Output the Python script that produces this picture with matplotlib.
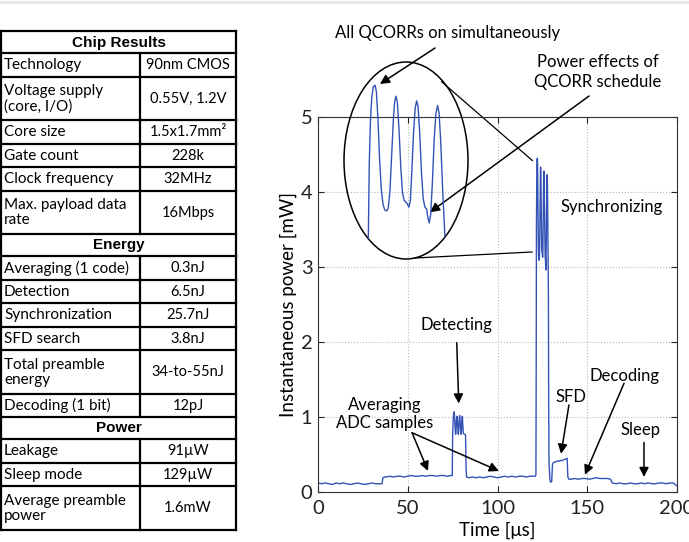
import matplotlib.pyplot as plt
from matplotlib.patches import Ellipse

# table contents
chip_rows = ['Technology', 'Voltage supply\n(core, I/O)', 'Core size', 'Gate count',
             'Clock frequency', 'Max. payload data\nrate']
chip_vals = ['90nm CMOS', '0.55V, 1.2V', '1.5x1.7mm²', '228k', '32MHz', '16Mbps']
energy_rows = ['Averaging (1 code)', 'Detection', 'Synchronization', 'SFD search',
               'Total preamble\nenergy', 'Decoding (1 bit)']
energy_vals = ['0.3nJ', '6.5nJ', '25.7nJ', '3.8nJ', '34-to-55nJ', '12pJ']
power_rows = ['Leakage', 'Sleep mode', 'Average preamble\npower']
power_vals = ['91µW', '129µW', '1.6mW']
sections = [('Chip Results', chip_rows, chip_vals),
            ('Energy', energy_rows, energy_vals),
            ('Power', power_rows, power_vals)]

# measured power trace (time in us, power in mW)
time_us = [0, 2, 4, 6, 8, 10, 12, 14, 16, 18, 20, 22, 24, 26, 28, 30, 32, 34, 35.6,
           36.2, 37, 38, 40, 42, 44, 46, 48, 50, 52, 54, 56, 58, 60, 62, 64, 66, 68, 70, 72, 74,
           74.8, 75.0, 75.3, 75.6, 75.9, 76.2, 76.5, 76.7, 76.9, 77.1, 77.4, 77.7, 78.0, 78.2,
           78.4, 78.6, 78.9, 79.2, 79.5, 79.7, 79.9, 80.1, 80.4, 80.7, 81.0, 81.6, 82.2, 82.5, 82.8,
           84, 86, 88, 90, 92, 94, 96, 98, 100, 102, 104, 106, 108, 110, 112, 114, 116, 118, 120,
           121.0, 121.4, 121.55, 121.62, 121.7, 121.8, 121.92, 122.05, 122.2, 122.32, 122.45,
           122.6, 122.75, 122.9, 123.05, 123.22, 123.35, 123.5, 123.65, 123.8, 123.92, 124.03,
           124.15, 124.3, 124.45, 124.6, 124.75, 124.85, 125.0, 125.15, 125.28, 125.4, 125.55,
           125.7, 125.83, 125.95, 126.1, 126.25, 126.4, 126.55, 126.7, 126.8, 126.92, 127.05,
           127.2, 127.35, 127.5, 127.65, 127.78, 127.92, 128.1, 128.25, 128.37, 128.5, 128.7,
           129.2, 129.6, 130.2, 130.6, 131, 132, 133, 134, 135, 136, 137, 138, 138.8, 139.2, 139.8,
           141, 143, 145, 147, 149, 151, 153, 155, 157, 159, 161, 163, 164,
           166, 168, 170, 172, 174, 176, 178, 180, 182, 184, 186, 188, 190, 192, 194, 196, 198, 200]
power_mw = [0.12, 0.11, 0.12, 0.11, 0.10, 0.12, 0.11, 0.12, 0.11, 0.10, 0.11, 0.12, 0.11, 0.10,
            0.11, 0.12, 0.11, 0.11, 0.11,
            0.19, 0.20, 0.20, 0.21, 0.20, 0.21, 0.21, 0.20, 0.21, 0.22, 0.21, 0.21, 0.22, 0.21,
            0.22, 0.22, 0.21, 0.22, 0.22, 0.21, 0.22,
            0.22, 0.75, 0.95, 1.05, 1.07, 0.95, 0.80, 0.77, 0.82, 0.95, 1.01, 0.92, 0.80, 0.77,
            0.82, 0.95, 1.02, 0.92, 0.80, 0.77, 0.82, 0.94, 1.01, 0.88, 0.78, 0.77, 0.76, 0.30, 0.20,
            0.19, 0.20, 0.19, 0.20, 0.19, 0.20, 0.21, 0.20, 0.19, 0.20, 0.21, 0.20, 0.21, 0.20,
            0.21, 0.21, 0.20, 0.21, 0.21,
            0.21, 0.23, 1.5, 2.8, 3.6, 4.05, 4.32, 4.43, 4.45, 4.38, 4.10,
            3.65, 3.32, 3.16, 3.10, 3.09, 3.12, 3.30, 3.70, 4.08, 4.28, 4.33,
            4.26, 3.95, 3.55, 3.28, 3.20, 3.19, 3.17, 3.13, 3.20, 3.50, 3.92,
            4.20, 4.28, 4.22, 3.92, 3.50, 3.22, 3.13, 3.11, 3.02, 2.96, 3.05,
            3.40, 3.85, 4.14, 4.23, 4.15, 3.85, 3.30, 2.90, 2.60, 1.2, 0.4,
            0.16, 0.13, 0.14, 0.36, 0.39, 0.40, 0.41, 0.41, 0.42, 0.42, 0.43, 0.44, 0.45, 0.20, 0.17,
            0.17, 0.18, 0.17, 0.18, 0.18, 0.17, 0.18, 0.19, 0.18, 0.18, 0.18, 0.17, 0.12,
            0.11, 0.12, 0.11, 0.11, 0.12, 0.11, 0.11, 0.12, 0.11, 0.12, 0.11, 0.11, 0.12, 0.12,
            0.11, 0.12, 0.12, 0.08]

font = 'Lato'
blue = '#3352b5'

fig = plt.figure(figsize=(6.89, 5.42), dpi=100)

# ---- table on the left, drawn in pixel coordinates ----
tab = fig.add_axes([0, 0, 1, 1])
tab.set_xlim(0, 689)
tab.set_ylim(542, 0)
tab.axis('off')
tab.plot([0, 689], [1.5, 1.5], color='#e6e6e6', lw=2)

x0, x1, xm = 1, 236, 140
y = 31
hdr_h, row_h, dbl_h = 22, 23.5, 43.5
for title, rows, vals in sections:
    tab.plot([x0, x1], [y, y], color='k', lw=1.6)
    tab.text((x0 + x1) / 2, y + hdr_h / 2 + 0.5, title, ha='center', va='center',
             fontsize=11, fontweight='bold', family='Liberation Sans')
    y += hdr_h
    for r, v in zip(rows, vals):
        h = dbl_h if '\n' in r else row_h
        tab.plot([x0, x1], [y, y], color='k', lw=1.6)
        tab.plot([xm, xm], [y, y + h], color='k', lw=1.6)
        tab.text(x0 + 3, y + h / 2 + 0.5, r, ha='left', va='center', fontsize=11,
                 family=font, linespacing=1.1)
        tab.text((xm + x1) / 2, y + h / 2 + 0.5, v, ha='center', va='center',
                 fontsize=10.5, family=font)
        y += h
tab.plot([x0, x1], [y, y], color='k', lw=1.6)
tab.plot([x0, x0], [31, y], color='k', lw=1.6)
tab.plot([x1, x1], [31, y], color='k', lw=1.6)

# ---- power trace ----
ax = fig.add_axes([318 / 689, 1 - 492 / 542, 359 / 689, 375 / 542])
ax.plot(time_us, power_mw, color=blue, lw=1.0)
ax.set_xlim(0, 200)
ax.set_ylim(0, 5)
ax.set_xticks([0, 50, 100, 150, 200])
ax.set_yticks([0, 1, 2, 3, 4, 5])
ax.grid(True, ls=':', color='#b8b8b8', lw=0.8)
ax.tick_params(direction='in', top=True, right=True, length=4, labelsize=14.5,
               colors='#222222')
ax.tick_params(axis='x', pad=6)
ax.tick_params(axis='y', pad=4)
for lab in ax.get_xticklabels() + ax.get_yticklabels():
    lab.set_family(font)
for s in ax.spines.values():
    s.set_color('#333333')
ax.set_xlabel('Time [μs]', fontsize=13.5, family=font, labelpad=3)
ax.set_ylabel('Instantaneous power [mW]', fontsize=13.5, family=font, labelpad=3)

# zoomed view of the synchronization peaks
ins = fig.add_axes([344 / 689, 1 - 259 / 542, 124 / 689, 197 / 542], zorder=3)
ins.axis('off')
ell = Ellipse((0.5, 0.5), 1, 1, transform=ins.transAxes, fill=False, ec='k', lw=1.1,
              clip_on=False)
ins.add_patch(ell)
ln, = ins.plot(time_us, power_mw, color=blue, lw=1.0)
ln.set_clip_path(ell)
ins.set_xlim(119.5, 130.3)
ins.set_ylim(2.57, 4.70)

# connector lines from the ellipse to the peaks
ax.plot([68.9, 119.4], [5.47, 4.42], color='k', lw=0.9, clip_on=False)
ax.plot([54.0, 119.2], [3.12, 3.20], color='k', lw=0.9, clip_on=False)

tk = dict(fontsize=12, family=font, ha='center', va='center')
arr = dict(arrowstyle='-|>', color='k', lw=1.1, mutation_scale=14, shrinkA=0, shrinkB=0)

ax.text(72.4, 6.12, 'All QCORRs on simultaneously', **tk)
ax.annotate('', xy=(34.5, 5.44), xytext=(65.2, 5.92), arrowprops=arr, annotation_clip=False)
ax.text(156.0, 5.6, 'Power effects of\nQCORR schedule', linespacing=1.25, **tk)
ax.annotate('', xy=(62.4, 3.73), xytext=(151.0, 5.28), arrowprops=arr, annotation_clip=False)
ax.text(163.8, 3.80, 'Synchronizing', **tk)
ax.text(76.9, 2.23, 'Detecting', **tk)
ax.annotate('', xy=(78.4, 1.18), xytext=(77.3, 1.99), arrowprops=arr)
ax.text(37.3, 1.04, 'Averaging\nADC samples', linespacing=1.1, **tk)
ax.annotate('', xy=(61.3, 0.28), xytext=(52.4, 0.79), arrowprops=arr)
ax.annotate('', xy=(100.8, 0.28), xytext=(52.4, 0.79), arrowprops=arr)
ax.text(141.0, 1.27, 'SFD', **tk)
ax.annotate('', xy=(135.4, 0.51), xytext=(139.8, 1.16), arrowprops=arr)
ax.text(171.0, 1.55, 'Decoding', **tk)
ax.annotate('', xy=(148.7, 0.23), xytext=(170.5, 1.45), arrowprops=arr)
ax.text(179.9, 0.83, 'Sleep', **tk)
ax.annotate('', xy=(181.6, 0.20), xytext=(181.6, 0.66), arrowprops=arr)

fig.savefig('out.png', dpi=100)
